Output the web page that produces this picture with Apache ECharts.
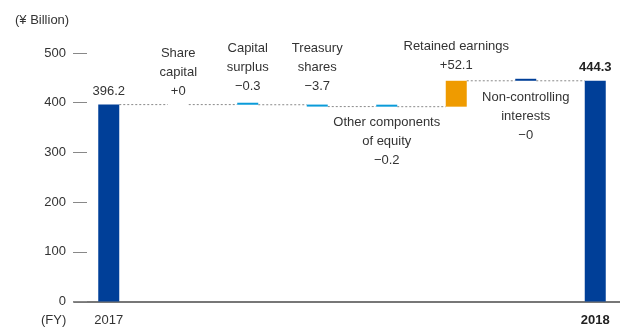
<!DOCTYPE html>
<html>
<head>
<meta charset="utf-8">
<script src="https://cdn.jsdelivr.net/npm/echarts@6/dist/echarts.min.js"></script>
<style>
  html, body { margin: 0; padding: 0; background: #fff; overflow: hidden; }
  /* the plot runs slightly past the right edge of the window, so the canvas is a bit wider */
  #chart { width: 630px; height: 328px; }
</style>
</head>
<body>
<div id="chart"></div>
<script>
// Equity bridge FY2017 -> FY2018, ¥ Billion
const categories = [
  '2017',
  'Share\ncapital',
  'Capital\nsurplus',
  'Treasury\nshares',
  'Other components\nof equity',
  'Retained earnings',
  'Non-controlling\ninterests',
  '2018'
];
const openingTotal = 396.2;
const closingTotal = 444.3;
// changes for the items between the two totals (categories 1..6)
const changes = [0, -0.3, -3.7, -0.2, 52.1, -0];
const yMin = 0;
const yMax = 500;
const yStep = 100;

const FONT = 'Liberation Sans, Arial, sans-serif';
const TEXT = '#333';
const DARK_BLUE = '#003f98';
const LIGHT_BLUE = '#0a9bd9';
const ORANGE = '#ef9b00';
const barColors = ['dark', 'none', 'light', 'light', 'light', 'orange', 'dark', 'dark'];
const colorOf = { dark: DARK_BLUE, light: LIGHT_BLUE, orange: ORANGE, none: 'rgba(0,0,0,0)' };

// waterfall pieces: invisible base + visible segment, plus running level after each item
const base = [0];
const visible = [openingTotal];
const levels = [openingTotal];
let running = openingTotal;
changes.forEach(c => {
  const after = running + c;
  base.push(Math.min(running, after));
  visible.push(Math.abs(c));
  running = after;
  levels.push(running);
});
base.push(0);
visible.push(closingTotal);

const signed = c => ((c > 0 || Object.is(c, 0)) ? '+' : '\u2212') + String(Math.abs(c));

// label placement for each bar: [position, distance]
const placement = [
  ['top', 6], ['top', 2], ['top', 7], ['top', 9],
  ['bottom', 6], ['top', 6], ['bottom', 7], ['top', 6]
];

const last = categories.length - 1;
const visibleData = visible.map((v, i) => {
  let text;
  if (i === 0) text = openingTotal.toFixed(1);
  else if (i === last) text = '{b|' + closingTotal.toFixed(1) + '}';
  else text = categories[i] + '\n' + signed(changes[i - 1]);
  return {
    value: v,
    itemStyle: { color: colorOf[barColors[i]] },
    label: {
      show: true,
      position: placement[i][0],
      distance: placement[i][1],
      formatter: () => text,
      lineHeight: (i === 0 || i === last) ? 15 : 19,
      align: 'center'
    }
  };
});

const BAR_W = 21;

const chart = echarts.init(document.getElementById('chart'), null, { renderer: 'canvas' });
chart.setOption({
  animation: false,
  backgroundColor: '#fff',
  textStyle: { fontFamily: FONT },
  grid: { left: 74, top: 53, right: 0, bottom: 26.5, containLabel: false },
  xAxis: {
    type: 'category',
    data: categories,
    axisLine: { show: true, lineStyle: { color: '#777', width: 2 } },
    axisTick: { show: false },
    axisLabel: {
      interval: 0,
      margin: 12,
      color: TEXT,
      fontSize: 13,
      fontFamily: FONT,
      formatter: (v, i) => i === 0 ? v : (i === last ? '{b|' + v + '}' : ''),
      rich: { b: { fontWeight: 'bold', fontSize: 13, color: '#222', fontFamily: FONT } }
    }
  },
  yAxis: {
    type: 'value',
    min: yMin,
    max: yMax,
    interval: yStep,
    offset: -13,
    axisLine: { show: false },
    axisTick: { show: true, length: 14, lineStyle: { color: '#888', width: 1 } },
    splitLine: { show: false },
    axisLabel: { margin: 21, color: TEXT, fontSize: 13, fontFamily: FONT }
  },
  series: [
    {
      type: 'custom',
      name: 'connector',
      coordinateSystem: 'cartesian2d',
      silent: true,
      z: 1,
      encode: { x: 0, y: 1 },
      data: levels.map((lv, i) => [i, lv]),
      renderItem: (params, api) => {
        const a = api.coord([api.value(0), api.value(1)]);
        const b = api.coord([api.value(0) + 1, api.value(1)]);
        return {
          type: 'line',
          shape: { x1: a[0] + BAR_W / 2, y1: a[1], x2: b[0] - BAR_W / 2, y2: b[1] },
          style: { stroke: '#8a8a8a', lineWidth: 1, lineDash: [2, 2] }
        };
      }
    },
    {
      type: 'bar',
      name: 'base',
      stack: 'wf',
      barWidth: BAR_W,
      silent: true,
      itemStyle: { color: 'rgba(0,0,0,0)' },
      data: base,
      z: 2
    },
    {
      type: 'bar',
      name: 'amount',
      stack: 'wf',
      barWidth: BAR_W,
      barMinHeight: 2,
      data: visibleData,
      z: 3,
      label: {
        color: TEXT,
        fontSize: 13,
        fontFamily: FONT,
        rich: { b: { fontWeight: 'bold', fontSize: 13, color: '#222', fontFamily: FONT } }
      }
    }
  ],
  graphic: [
    { type: 'text', left: 15, top: 14, style: { text: '(\u00a5 Billion)', font: '13px ' + FONT, fill: TEXT } },
    { type: 'text', left: 41, top: 314, style: { text: '(FY)', font: '13px ' + FONT, fill: TEXT } }
  ]
});
</script>
</body>
</html>
